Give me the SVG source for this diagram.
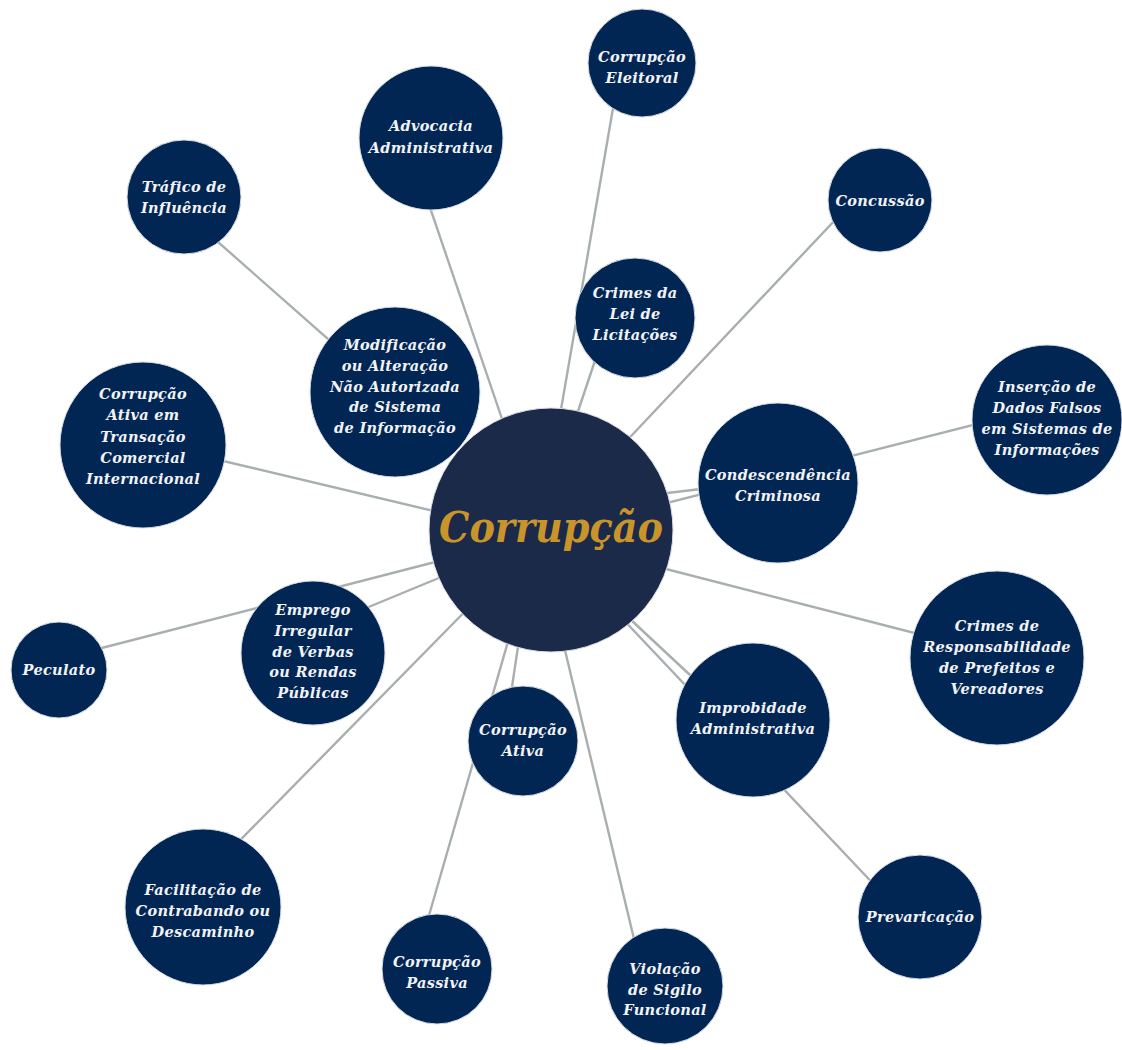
<svg xmlns="http://www.w3.org/2000/svg" width="1122" height="1050" viewBox="0 0 1122 1050">
  <style>
    .bg { fill: #ffffff; }
    .edge { stroke: #a9aeb0; stroke-width: 2.4; fill: none; stroke-linecap: round; }
    .node { fill: #022654; stroke: #d9dde3; stroke-width: 1; }
    .hub { fill: #1c2a4a; stroke: #d9dde3; stroke-width: 1; }
    .lbl { font-family: "DejaVu Serif", "Liberation Serif", serif; font-weight: bold; font-style: italic; font-size: 14.5px; fill: #f2f3f5; text-anchor: middle; letter-spacing: 0.3px; }
    .hubl { font-family: "DejaVu Serif", "Liberation Serif", serif; font-weight: bold; font-style: italic; font-size: 43px; fill: #c9952b; text-anchor: middle; }
  </style>
  <rect class="bg" x="0" y="0" width="1122" height="1050"/>

  <!-- connectors, drawn beneath the circles -->
  <g id="connectors">
    <line class="edge" x1="621" y1="62" x2="554" y2="450"/>
    <line class="edge" x1="610" y1="316" x2="565" y2="450"/>
    <line class="edge" x1="870" y1="183" x2="600" y2="469"/>
    <line class="edge" x1="407" y1="140" x2="516" y2="460"/>
    <line class="edge" x1="184" y1="212" x2="396" y2="399"/>
    <line class="edge" x1="143" y1="442" x2="480" y2="522"/>
    <line class="edge" x1="1040" y1="408" x2="600" y2="520"/>
    <line class="edge" x1="777" y1="480" x2="600" y2="501"/>
    <line class="edge" x1="1000" y1="655" x2="600" y2="552"/>
    <line class="edge" x1="59" y1="659" x2="470" y2="553"/>
    <line class="edge" x1="313" y1="630" x2="480" y2="561"/>
    <line class="edge" x1="203" y1="878" x2="490" y2="586"/>
    <line class="edge" x1="419" y1="950" x2="520" y2="600"/>
    <line class="edge" x1="504" y1="740" x2="525" y2="600"/>
    <line class="edge" x1="645" y1="985" x2="553" y2="600"/>
    <line class="edge" x1="900" y1="912" x2="600" y2="595"/>
    <line class="edge" x1="750" y1="731" x2="600" y2="591"/>
  </g>

  <g id="n-eleitoral">
    <circle class="node" cx="642" cy="63" r="54"/>
    <text class="lbl" x="642" y="62">Corrupção</text>
    <text class="lbl" x="642" y="83">Eleitoral</text>
  </g>
  <g id="n-advocacia">
    <circle class="node" cx="431" cy="138" r="72"/>
    <text class="lbl" x="431" y="131">Advocacia</text>
    <text class="lbl" x="431" y="153">Administrativa</text>
  </g>
  <g id="n-trafico">
    <circle class="node" cx="184" cy="197" r="57"/>
    <text class="lbl" x="184" y="192">Tráfico de</text>
    <text class="lbl" x="184" y="213">Influência</text>
  </g>
  <g id="n-concussao">
    <circle class="node" cx="880" cy="200" r="52"/>
    <text class="lbl" x="880" y="206">Concussão</text>
  </g>
  <g id="n-licitacoes">
    <circle class="node" cx="635" cy="318" r="60"/>
    <text class="lbl" x="635" y="298">Crimes da</text>
    <text class="lbl" x="635" y="319">Lei de</text>
    <text class="lbl" x="635" y="340">Licitações</text>
  </g>
  <g id="n-modificacao">
    <circle class="node" cx="395" cy="392" r="85"/>
    <text class="lbl" x="395" y="350">Modificação</text>
    <text class="lbl" x="395" y="371">ou Alteração</text>
    <text class="lbl" x="395" y="392">Não Autorizada</text>
    <text class="lbl" x="395" y="412">de Sistema</text>
    <text class="lbl" x="395" y="433">de Informação</text>
  </g>
  <g id="n-transacao">
    <circle class="node" cx="143" cy="445" r="83"/>
    <text class="lbl" x="143" y="399">Corrupção</text>
    <text class="lbl" x="143" y="420">Ativa em</text>
    <text class="lbl" x="143" y="442">Transação</text>
    <text class="lbl" x="143" y="463">Comercial</text>
    <text class="lbl" x="143" y="484">Internacional</text>
  </g>
  <g id="n-insercao">
    <circle class="node" cx="1047" cy="420" r="75"/>
    <text class="lbl" x="1047" y="392">Inserção de</text>
    <text class="lbl" x="1047" y="413">Dados Falsos</text>
    <text class="lbl" x="1047" y="434">em Sistemas de</text>
    <text class="lbl" x="1047" y="455">Informações</text>
  </g>
  <g id="n-condescendencia">
    <circle class="node" cx="778" cy="483" r="80"/>
    <text class="lbl" x="778" y="480">Condescendência</text>
    <text class="lbl" x="778" y="501">Criminosa</text>
  </g>
  <g id="n-prefeitos">
    <circle class="node" cx="997" cy="658" r="87"/>
    <text class="lbl" x="997" y="631">Crimes de</text>
    <text class="lbl" x="997" y="652">Responsabilidade</text>
    <text class="lbl" x="997" y="673">de Prefeitos e</text>
    <text class="lbl" x="997" y="694">Vereadores</text>
  </g>
  <g id="n-peculato">
    <circle class="node" cx="59" cy="670" r="48"/>
    <text class="lbl" x="59" y="675">Peculato</text>
  </g>
  <g id="n-emprego">
    <circle class="node" cx="313" cy="653" r="72"/>
    <text class="lbl" x="313" y="615">Emprego</text>
    <text class="lbl" x="313" y="636">Irregular</text>
    <text class="lbl" x="313" y="657">de Verbas</text>
    <text class="lbl" x="313" y="677">ou Rendas</text>
    <text class="lbl" x="313" y="698">Públicas</text>
  </g>
  <g id="n-ativa">
    <circle class="node" cx="523" cy="741" r="55"/>
    <text class="lbl" x="523" y="735">Corrupção</text>
    <text class="lbl" x="523" y="756">Ativa</text>
  </g>
  <g id="n-improbidade">
    <circle class="node" cx="753" cy="720" r="77"/>
    <text class="lbl" x="753" y="713">Improbidade</text>
    <text class="lbl" x="753" y="734">Administrativa</text>
  </g>
  <g id="n-facilitacao">
    <circle class="node" cx="203" cy="907" r="78"/>
    <text class="lbl" x="203" y="895">Facilitação de</text>
    <text class="lbl" x="203" y="916">Contrabando ou</text>
    <text class="lbl" x="203" y="937">Descaminho</text>
  </g>
  <g id="n-passiva">
    <circle class="node" cx="437" cy="969" r="55"/>
    <text class="lbl" x="437" y="967">Corrupção</text>
    <text class="lbl" x="437" y="988">Passiva</text>
  </g>
  <g id="n-sigilo">
    <circle class="node" cx="665" cy="986" r="58"/>
    <text class="lbl" x="665" y="974">Violação</text>
    <text class="lbl" x="665" y="995">de Sigilo</text>
    <text class="lbl" x="665" y="1015">Funcional</text>
  </g>
  <g id="n-prevaricacao">
    <circle class="node" cx="920" cy="917" r="62"/>
    <text class="lbl" x="920" y="922">Prevaricação</text>
  </g>

  <g id="n-corrupcao">
    <circle class="hub" cx="551" cy="530" r="122"/>
    <text class="hubl" x="551" y="542" textLength="224" lengthAdjust="spacingAndGlyphs">Corrupção</text>
  </g>
</svg>
